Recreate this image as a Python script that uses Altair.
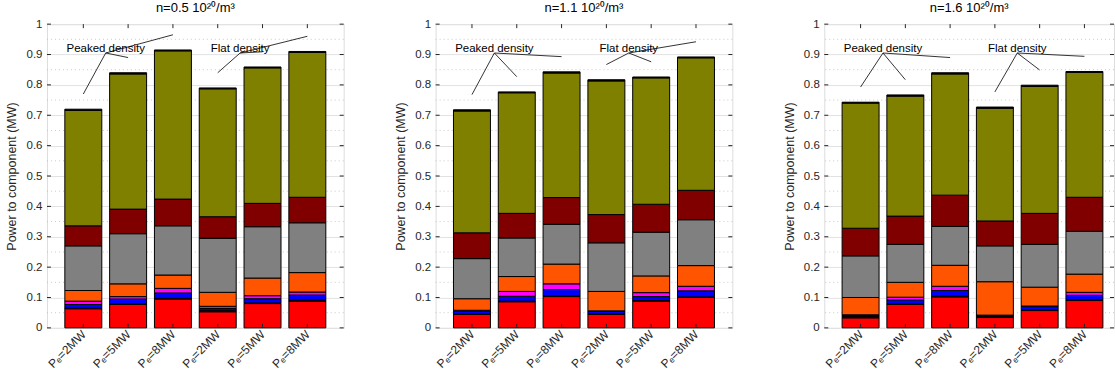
import altair as alt
import pandas as pd

FONT = "Liberation Sans"

# ---------------- data ----------------
component_names = ["c_red", "c_black", "c_blue", "c_magenta", "c_orange",
                   "c_gray", "c_darkred", "c_olive", "c_top"]
component_colors = ["#FF0000", "#000000", "#0000FF", "#FF00FF", "#FF5500",
                    "#808080", "#800000", "#808000", "#000000"]

bar_labels = ["Pₑ=2MW", "Pₑ=5MW", "Pₑ=8MW", "Pₑ=2MW", "Pₑ=5MW", "Pₑ=8MW"]
bar_positions = [1, 2, 3, 4, 5, 6]
panel_titles = ["n=0.5 10²⁰/m³", "n=1.1 10²⁰/m³", "n=1.6 10²⁰/m³"]

# rows = components (bottom -> top), columns = the six bars
panel_n05 = [
    [0.063, 0.077, 0.095, 0.053, 0.080, 0.088],  # red
    [0.002, 0.002, 0.002, 0.005, 0.002, 0.003],  # black
    [0.012, 0.016, 0.018, 0.006, 0.014, 0.017],  # blue
    [0.011, 0.008, 0.015, 0.007, 0.010, 0.010],  # magenta
    [0.035, 0.042, 0.044, 0.046, 0.058, 0.064],  # orange
    [0.147, 0.165, 0.162, 0.178, 0.169, 0.164],  # gray
    [0.066, 0.081, 0.088, 0.071, 0.077, 0.084],  # dark red
    [0.380, 0.445, 0.488, 0.421, 0.446, 0.477],  # olive
    [0.004, 0.004, 0.003, 0.003, 0.003, 0.003],  # black (top)
]
panel_n11 = [
    [0.044, 0.086, 0.103, 0.044, 0.088, 0.100],
    [0.002, 0.002, 0.002, 0.003, 0.002, 0.002],
    [0.010, 0.016, 0.021, 0.007, 0.013, 0.020],
    [0.002, 0.016, 0.019, 0.002, 0.013, 0.015],
    [0.038, 0.049, 0.065, 0.064, 0.055, 0.068],
    [0.132, 0.127, 0.131, 0.160, 0.144, 0.151],
    [0.085, 0.081, 0.088, 0.093, 0.092, 0.097],
    [0.401, 0.397, 0.410, 0.440, 0.416, 0.436],
    [0.004, 0.003, 0.004, 0.004, 0.003, 0.003],
]
panel_n16 = [
    [0.033, 0.077, 0.102, 0.034, 0.057, 0.090],
    [0.008, 0.002, 0.002, 0.006, 0.003, 0.002],
    [0.001, 0.013, 0.019, 0.001, 0.010, 0.015],
    [0.001, 0.009, 0.014, 0.001, 0.002, 0.010],
    [0.057, 0.049, 0.069, 0.110, 0.062, 0.060],
    [0.137, 0.125, 0.128, 0.118, 0.141, 0.141],
    [0.091, 0.093, 0.103, 0.082, 0.102, 0.112],
    [0.412, 0.395, 0.399, 0.371, 0.418, 0.411],
    [0.003, 0.004, 0.004, 0.004, 0.004, 0.003],
]
panels = [panel_n05, panel_n11, panel_n16]

group_texts = ["Peaked density", "Flat density"]
group_centers = [1.5, 4.5]
group_bars = [[1, 2, 3], [4, 5, 6]]
annot_origin_y = 0.905
annot_gap = 0.05

y_major = [0, 0.1, 0.2, 0.3, 0.4, 0.5, 0.6, 0.7, 0.8, 0.9, 1.0]
y_minor = [0.05, 0.15, 0.25, 0.35, 0.45, 0.55, 0.65, 0.75, 0.85, 0.95]

PLOT_H = 304
STEP_W = 297
TICK_COL = "#262626"
label_expr = "[" + ",".join('"%s"' % s for s in bar_labels) + "][datum.value - 1]"


def make_panel(idx):
    rows = []
    for ci, comp in enumerate(component_names):
        for bi, pos in enumerate(bar_positions):
            rows.append({"pos": pos, "comp": comp, "ci": ci,
                         "value": panels[idx][ci][bi]})
    d = pd.DataFrame(rows)
    totals = d.groupby("pos")["value"].sum()

    lines = []
    texts = []
    for g, txt in enumerate(group_texts):
        texts.append({"x": group_centers[g], "y": annot_origin_y, "t": txt})
        for b in group_bars[g]:
            lines.append({"x0": group_centers[g], "y0": annot_origin_y,
                          "x1": b, "y1": totals[b] + annot_gap})
    lines = pd.DataFrame(lines)
    texts = pd.DataFrame(texts)

    last = idx == 2
    w = 290 if last else STEP_W
    xmax = 0.3 + w / (STEP_W / 6.4)
    xs = alt.Scale(domain=[0.3, xmax], nice=False, zero=False)
    ys = alt.Scale(domain=[0, 1], nice=False, zero=False)

    xaxis = alt.Axis(values=bar_positions, labelExpr=label_expr, labelAngle=315,
                     labelAlign="right", labelBaseline="middle", labelPadding=4,
                     labelFontSize=12, labelColor=TICK_COL, labelFont=FONT,
                     labelOverlap=False, grid=False, ticks=False, domain=False,
                     title=None)
    yaxis = alt.Axis(values=y_major, format="~g", labelFontSize=11.5,
                     labelColor=TICK_COL, labelFont=FONT, labelPadding=5,
                     labelOverlap=False, grid=True, gridColor="#e2e2e2",
                     gridWidth=1, ticks=False, domain=False,
                     title="Power to component (MW)", titleFont=FONT,
                     titleFontSize=12.5, titleFontWeight="normal",
                     titleColor=TICK_COL, titlePadding=7)

    def X(f):
        return alt.X(f, scale=xs, axis=xaxis)

    def Y(f):
        return alt.Y(f, scale=ys, axis=yaxis)

    bars = alt.Chart(d).transform_stack(
        stack="value", groupby=["pos"], as_=["y0", "y1"],
        sort=[alt.SortField("ci", order="ascending")]
    ).mark_bar(size=37, stroke="#000000", strokeWidth=1).encode(
        x=X("pos:Q"),
        y=Y("y0:Q"),
        y2="y1:Q",
        color=alt.Color("comp:N", scale=alt.Scale(domain=component_names,
                                                  range=component_colors),
                        legend=None),
    )

    minor = alt.Chart(pd.DataFrame({"v": y_minor})).mark_rule(
        color="#bdbdbd", strokeDash=[1, 3], strokeWidth=0.8
    ).encode(y=Y("v:Q"))

    rules = alt.Chart(lines).mark_rule(color="#000000", strokeWidth=0.8).encode(
        x=X("x0:Q"), y=Y("y0:Q"), x2="x1:Q", y2="y1:Q")

    labels = alt.Chart(texts).mark_text(
        fontSize=11.5, font=FONT, color="#000000", align="center",
        baseline="alphabetic", dy=-1
    ).encode(x=X("x:Q"), y=Y("y:Q"), text="t:N")

    tick_y = pd.DataFrame({"v": y_major})
    tick_x = pd.DataFrame({"p": bar_positions})
    lt = alt.Chart(tick_y).mark_rule(color=TICK_COL, strokeWidth=1).encode(
        y=Y("v:Q"), x=alt.value(0), x2=alt.value(4))
    rt = alt.Chart(tick_y).mark_rule(color=TICK_COL, strokeWidth=1).encode(
        y=Y("v:Q"), x=alt.value(w), x2=alt.value(w - 4))
    tt = alt.Chart(tick_x).mark_rule(color=TICK_COL, strokeWidth=1).encode(
        x=X("p:Q"), y=alt.value(0), y2=alt.value(4))
    bt = alt.Chart(tick_x).mark_rule(color=TICK_COL, strokeWidth=1).encode(
        x=X("p:Q"), y=alt.value(PLOT_H), y2=alt.value(PLOT_H - 4))

    layer = alt.layer(minor, bars, rules, labels, lt, rt, tt, bt).properties(
        width=w, height=PLOT_H,
        title=alt.TitleParams(panel_titles[idx], font=FONT, fontSize=13,
                              fontWeight="normal", color="#000000", offset=3),
    )
    return layer


chart = alt.hconcat(make_panel(0), make_panel(1), make_panel(2), spacing=49).properties(
    padding={"left": 5, "top": 1, "right": 0, "bottom": 0}
).configure_view(stroke=TICK_COL, strokeWidth=1).configure(background="white")

chart.save("out.html", embed_options={"renderer": "svg", "actions": False})
